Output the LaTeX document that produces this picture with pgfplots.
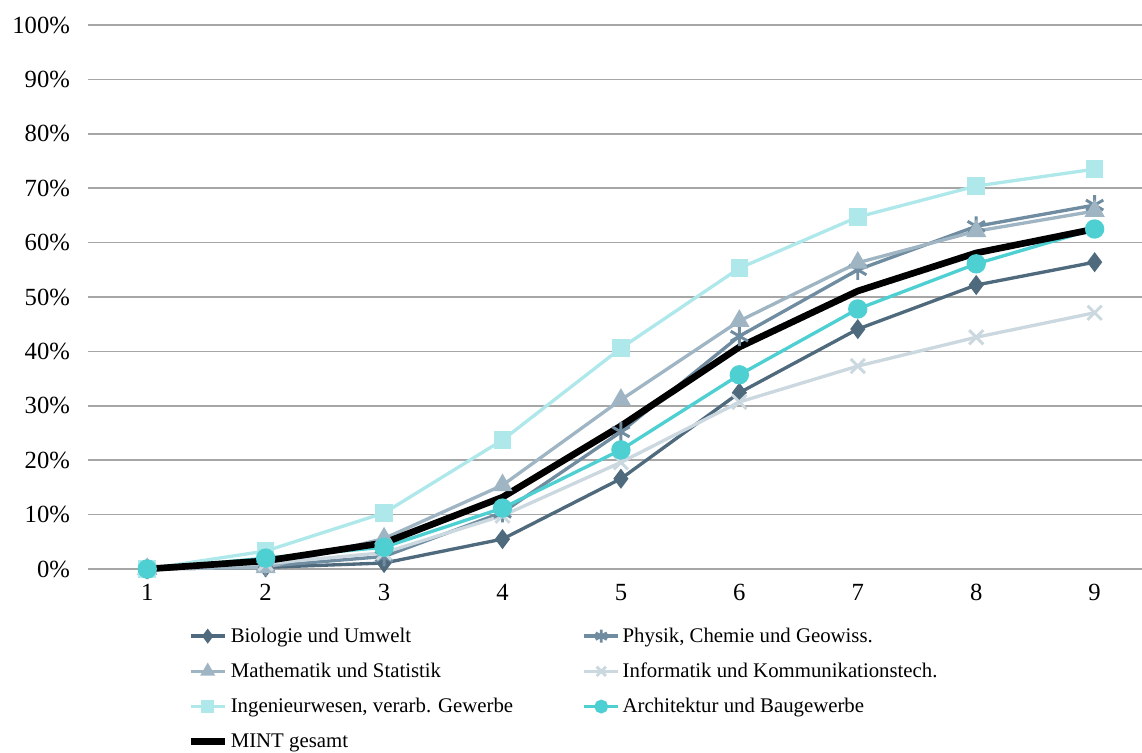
\documentclass[border=0pt]{standalone}
\usepackage{fontspec}
\setmainfont{Liberation Serif}
\usepackage{pgfplots}
\pgfplotsset{compat=1.18}
\definecolor{cBio}{HTML}{4F6A7D}
\definecolor{cPhy}{HTML}{6F8CA0}
\definecolor{cMat}{HTML}{9FB5C3}
\definecolor{cInf}{HTML}{CBD8E0}
\definecolor{cIng}{HTML}{AFE8EB}
\definecolor{cArc}{HTML}{4ECFD2}
\definecolor{cGrid}{HTML}{A6A6A6}
\begin{document}
\begin{tikzpicture}
\begin{axis}[name=ax,
  scale only axis, width=790.5pt, height=408pt,
  xmin=0.5, xmax=9.4, ymin=0, ymax=100,
  xtick={1,...,9}, ytick={0,10,...,100},
  yticklabel={\pgfmathprintnumber{\tick}\%},
  /pgf/number format/assume math mode=true,
  tick label style={font=\fontsize{18.5}{21}\selectfont, text=black},
  xticklabel style={yshift=-8pt},
  yticklabel style={xshift=-10pt},
  axis line style={draw=none}, major tick length=0pt,
  ymajorgrids, grid style={color=cGrid, line width=1.1pt},
  clip=false,
  legend columns=2,
  legend style={at={(0.094,-0.098)}, anchor=north west, draw=none, fill=none,
    font=\fontsize{15.6}{18}\selectfont, row sep=10pt,
    inner xsep=0pt, column sep=0pt,
    nodes={inner xsep=2pt},
    /tikz/every even column/.append style={column sep=50pt}},
  legend cell align=left,
  legend image code/.code={\draw[mark repeat=2,mark phase=2, every mark/.append style={scale=0.65}] plot coordinates {(0cm,0cm) (0.45cm,0cm) (0.9cm,0cm)};},
]
\addplot[cBio, line width=2.5pt, mark=diamond*, mark size=5.5pt, mark options={solid}] coordinates {
(1,0) (2,0.3) (3,1.1) (4,5.5) (5,16.6) (6,32.4) (7,44.1) (8,52.2) (9,56.4)};
\addlegendentry{Biologie und Umwelt}
\addplot[cPhy, line width=2.5pt, mark=asterisk, mark size=7.5pt, mark options={line width=2.2pt}] coordinates {
(1,0) (2,0.5) (3,2.3) (4,10.4) (5,25.2) (6,42.8) (7,55.0) (8,63.0) (9,66.9)};
\addlegendentry{Physik, Chemie und Geowiss.}
\addplot[cMat, line width=2.5pt, mark=triangle*, mark size=6.3pt] coordinates {
(1,0) (2,0.3) (3,5.6) (4,15.4) (5,31.1) (6,45.6) (7,56.3) (8,62.1) (9,65.8)};
\addlegendentry{Mathematik und Statistik}
\addplot[cInf, line width=2.5pt, mark=x, mark size=7.5pt, mark options={line width=2.2pt}] coordinates {
(1,0) (2,1.0) (3,3.0) (4,9.8) (5,19.6) (6,30.7) (7,37.3) (8,42.6) (9,47.1)};
\addlegendentry{Informatik und Kommunikationstech.}
\addplot[cIng, line width=2.5pt, mark=square*, mark size=5.3pt] coordinates {
(1,0) (2,3.3) (3,10.3) (4,23.7) (5,40.6) (6,55.3) (7,64.7) (8,70.4) (9,73.5)};
\addlegendentry{Ingenieurwesen, verarb. Gewerbe}
\addplot[cArc, line width=2.5pt, mark=*, mark size=6pt] coordinates {
(1,0) (2,2.0) (3,4.0) (4,11.2) (5,21.9) (6,35.7) (7,47.8) (8,56.1) (9,62.5)};
\addlegendentry{Architektur und Baugewerbe}
\addplot[black, line width=5pt] coordinates {
(1,0) (2,1.5) (3,4.8) (4,13.2) (5,26.3) (6,40.8) (7,51.1) (8,58.1) (9,62.5)};
\addlegendentry{MINT gesamt}
\end{axis}
\pgfresetboundingbox
\path[use as bounding box] ([xshift=-66pt,yshift=-138pt]ax.south west) rectangle ([yshift=18.75pt]ax.north east);
\end{tikzpicture}
\end{document}
